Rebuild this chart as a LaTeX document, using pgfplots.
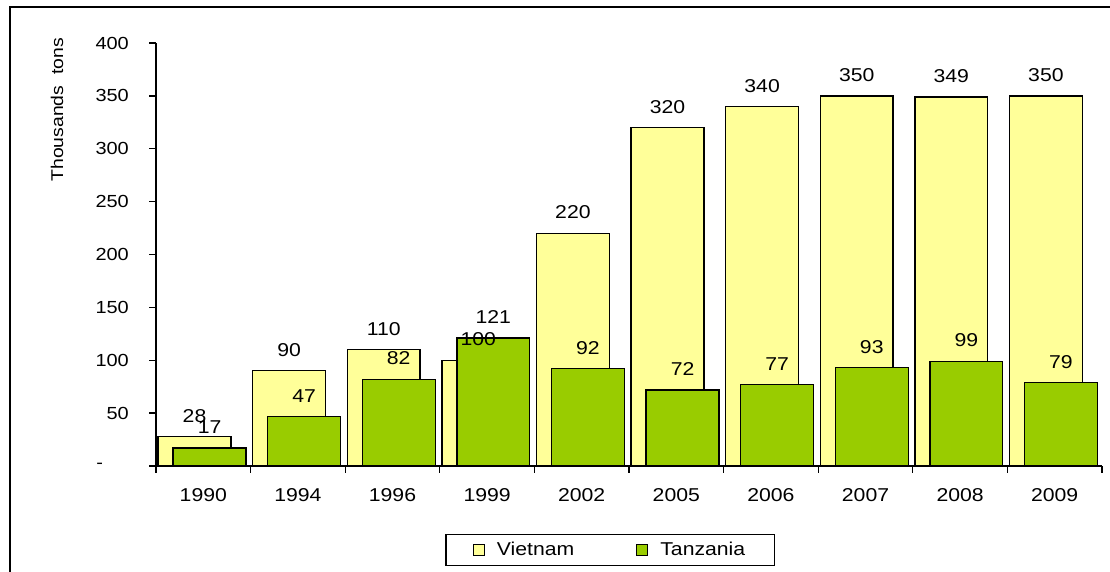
\documentclass[border=0pt]{standalone}
\usepackage{pgfplots}
\pgfplotsset{compat=1.18}
\usepackage{fontspec}
\setmainfont{Liberation Sans}[FakeStretch=1.14]
\definecolor{viet}{HTML}{FFFF99}
\definecolor{tanz}{HTML}{99CC00}
\newcommand{\lblfont}{\fontsize{18.6}{20}\selectfont}
\begin{document}
\begin{tikzpicture}[x=1pt,y=1pt]
\useasboundingbox (0,0) rectangle (1110,572);
\draw[line width=2pt] (10,-5) -- (10,565) -- (1120,565);
\begin{axis}[
  at={(156pt,106pt)}, anchor=south west,
  scale only axis, width=946pt, height=423pt,
  xmin=-0.5, xmax=9.5, ymin=0, ymax=400,
  axis x line=bottom, axis y line=left,
  axis line style={-, line width=1.3pt, black},
  ybar,
  /pgf/number format/assume math mode=true,
  ytick={0,50,100,150,200,250,300,350,400},
  yticklabels={{\makebox[58pt]{-}},50,100,150,200,250,300,350,400},
  xtick={0,1,2,3,4,5,6,7,8,9},
  xticklabels={1990,1994,1996,1999,2002,2005,2006,2007,2008,2009},
  minor xtick={-0.5,0.5,1.5,2.5,3.5,4.5,5.5,6.5,7.5,8.5,9.5},
  tick align=outside,
  major x tick style={draw=none},
  minor x tick style={black, line width=1.3pt},
  minor tick length=7pt,
  ytick style={black, line width=1.3pt},
  major tick length=7pt,
  yticklabel style={font=\fontsize{17.5}{19}\selectfont, inner sep=0pt, xshift=-20pt},
  xticklabel style={font=\lblfont, inner sep=0pt, anchor=north, yshift=-15pt},
  ylabel={Thousands\ \ tons},
  ylabel style={at={(axis description cs:-0.1047,0.842)}, anchor=center, font=\fontsize{17}{18}\selectfont},
  legend style={at={(axis description cs:0.48,-0.1986)}, anchor=center, legend columns=2,
    draw=black, line width=1.3pt, font=\lblfont, inner xsep=27pt, inner ysep=6pt,
    /tikz/every odd column/.append style={column sep=10pt},
    /tikz/every even column/.append style={column sep=60pt}},
  legend image code/.code={\draw[#1, line width=1pt] (0pt,-5.5pt) rectangle (11pt,5.5pt);},
  nodes near coords style={font=\lblfont, inner sep=0pt, anchor=south, yshift=14pt, text=black},
]
\addplot[ybar, bar width=0.77, bar shift=-0.093, fill=viet, draw=black, line width=1.3pt]
  coordinates {(0,28) (1,90) (2,110) (3,100) (4,220) (5,320) (6,340) (7,350) (8,349) (9,350)};
\addlegendentry{Vietnam}
\addplot[ybar, bar width=0.77, bar shift=0.066, fill=tanz, draw=black, line width=1.3pt]
  coordinates {(0,17) (1,47) (2,82) (3,121) (4,92) (5,72) (6,77) (7,93) (8,99) (9,79)};
\addlegendentry{Tanzania}
\addplot[ybar, bar width=0.77, bar shift=-0.093, draw=none, fill=none, nodes near coords, forget plot]
  coordinates {(0,28) (1,90) (2,110) (3,100) (4,220) (5,320) (6,340) (7,350) (8,349) (9,350)};
\addplot[ybar, bar width=0.77, bar shift=0.066, draw=none, fill=none, nodes near coords, forget plot]
  coordinates {(0,17) (1,47) (2,82) (3,121) (4,92) (5,72) (6,77) (7,93) (8,99) (9,79)};
\end{axis}
\end{tikzpicture}
\end{document}
